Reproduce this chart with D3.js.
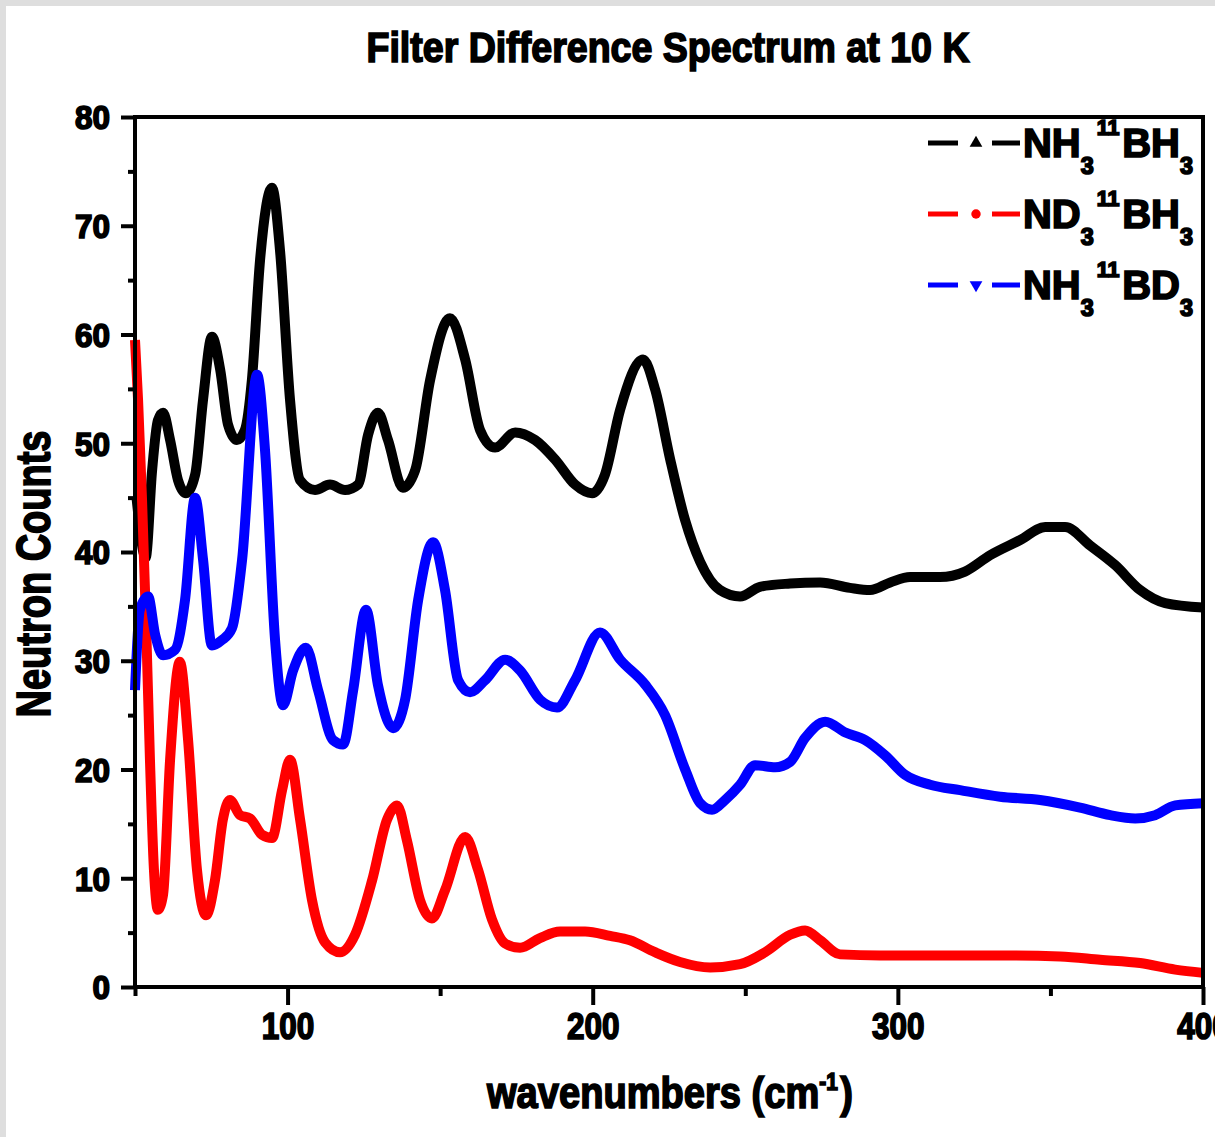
<!DOCTYPE html>
<html>
<head>
<meta charset="utf-8">
<script src="https://cdn.jsdelivr.net/npm/d3@7"></script>
<style>
  body { margin: 0; background: #fff; }
  svg { display: block; }
  text { font-family: "Liberation Sans", Arial, sans-serif; font-weight: bold; fill: #000; }
</style>
</head>
<body>
<svg id="chart" width="1215" height="1137"></svg>
<script>
// NH3-11BH3 spectrum (wavenumber cm^-1, neutron counts)
const nhbhX = [50.5, 53.5, 55.6, 57.5, 59.2, 61.5, 64.1, 66.7, 69.7, 72.3, 75.2, 77.9, 80.5, 83.4, 86, 88.3, 91, 94.9, 97.5, 100.8, 104.1, 109, 113.9, 118.8, 123.1, 126.4, 129.6, 132.9, 137.8, 141.8, 146.7, 153.2, 158.2, 163.1, 168, 174.6, 181.1, 187.7, 194.2, 199.8, 204, 209, 216.5, 220.5, 225.4, 230.3, 235.2, 241.7, 248.3, 254.8, 264.7, 274.5, 284.3, 290.9, 297.5, 304, 313.8, 322, 330.2, 340.1, 348.3, 354.8, 363, 371.2, 379.4, 387.6, 400];
const nhbhY = [45, 39.5, 47.5, 52.1, 52.8, 50.3, 46.6, 45.4, 47.1, 54, 59.8, 56.8, 51.7, 50.3, 51.2, 55.8, 66.9, 73.5, 67.8, 54, 46.6, 45.7, 46.2, 45.7, 46.2, 50.8, 52.8, 50.3, 45.9, 47.5, 55.8, 61.5, 57.7, 51.2, 49.6, 51, 50.3, 48.5, 46.2, 45.4, 47.1, 53.1, 57.7, 54.9, 48.5, 42.9, 39.1, 36.5, 35.9, 36.8, 37.1, 37.2, 36.7, 36.5, 37.2, 37.7, 37.7, 38.2, 39.7, 41.1, 42.3, 42.3, 40.6, 38.8, 36.5, 35.3, 34.9];

// ND3-11BH3 spectrum
const ndbhX = [50, 51, 52.3, 53.6, 54.9, 56.2, 57.5, 59.2, 61.5, 64.7, 67.4, 70.3, 73.3, 76.2, 78.8, 81.1, 84.4, 87.7, 91.6, 94.9, 98.2, 100.8, 104.1, 108, 112.3, 117.2, 122.1, 127.7, 132.6, 135.9, 139.1, 143.4, 147.3, 151.6, 158.2, 162.4, 167, 171.3, 176.2, 182.7, 189.3, 197.5, 205.7, 212.2, 220.4, 228.6, 238.5, 248.3, 256.5, 264.7, 269.6, 274.5, 281.1, 294.2, 313.8, 333.5, 353.2, 366.3, 379.4, 390.9, 400];
const ndbhY = [59.5, 54, 44.8, 33.7, 20.9, 10.8, 7.1, 8.5, 20.9, 29.9, 22.7, 10.8, 6.6, 9.8, 15.4, 17.2, 15.8, 15.5, 14, 13.7, 18.1, 20.9, 15.4, 8, 4.1, 3.2, 4.8, 9.8, 15.4, 16.7, 13.5, 8, 6.3, 8.9, 13.8, 10.8, 6.2, 4, 3.6, 4.5, 5.1, 5.1, 4.7, 4.3, 3.2, 2.3, 1.8, 2.1, 3.2, 4.8, 5.2, 4.3, 3, 2.9, 2.9, 2.9, 2.8, 2.5, 2.2, 1.6, 1.3];

// NH3-11BD3 spectrum
const nhbdX = [50, 51.6, 54.3, 56.6, 59.2, 63.1, 66.4, 69.7, 72.3, 75.2, 78.5, 81.8, 85.1, 90, 92.6, 95.9, 98.5, 101.8, 106, 110, 114.9, 118.2, 121.5, 125.7, 129.6, 134.6, 138.5, 142.8, 147.7, 151.6, 155.9, 159.8, 164.7, 171.3, 176.2, 182.8, 188.3, 194.2, 202.4, 209, 217.2, 223.7, 230.3, 235.2, 239.1, 243.4, 248.3, 253.2, 259.8, 264.7, 269.6, 276.2, 282.8, 289.3, 295.8, 302.4, 310.6, 320.4, 333.5, 346.6, 359.7, 369.6, 377.8, 384.3, 390.9, 400];
const nhbdY = [27.3, 34.7, 35.9, 32.4, 30.5, 31, 35.6, 45, 39.3, 31.4, 31.9, 33, 39.3, 56.3, 49.4, 31.9, 25.9, 29.1, 31.2, 27.3, 22.7, 22.3, 27.3, 34.7, 27.8, 23.8, 26.4, 35.6, 40.9, 36.5, 28.2, 27.1, 28.2, 30.1, 29.1, 26.4, 25.7, 28.2, 32.6, 30.1, 27.8, 25, 20, 16.9, 16.3, 17.2, 18.6, 20.4, 20.2, 20.7, 22.9, 24.4, 23.4, 22.7, 21.3, 19.5, 18.6, 18.1, 17.5, 17.2, 16.5, 15.8, 15.5, 15.8, 16.7, 16.9];

const xMajorTicks = [100, 200, 300, 400];
const xMinorTicks = [50, 150, 250, 350];
const yMajorTicks = [0, 10, 20, 30, 40, 50, 60, 70, 80];
const yMinorTicks = [5, 15, 25, 35, 45, 55, 65, 75];

const series = [
  { name: "NH3BH3", xs: nhbhX, ys: nhbhY, color: "#000000", symbol: d3.symbolTriangle, label: ["NH", "3", "11", "BH", "3"] },
  { name: "ND3BH3", xs: ndbhX, ys: ndbhY, color: "#ff0000", symbol: d3.symbolCircle, label: ["ND", "3", "11", "BH", "3"] },
  { name: "NH3BD3", xs: nhbdX, ys: nhbdY, color: "#0000ff", symbol: d3.symbolTriangle, flip: true, label: ["NH", "3", "11", "BD", "3"] }
];

const svg = d3.select("#chart");
const W = 1215, H = 1137;
const plot = { left: 135, right: 1203, top: 117, bottom: 987 };
const heavy = 1.7;

svg.append("rect").attr("width", W).attr("height", H).attr("fill", "#fff");
// light frame strips along the left and top edges
svg.append("rect").attr("x", 0).attr("y", 0).attr("width", W).attr("height", 6).attr("fill", "#dedede");
svg.append("rect").attr("x", 0).attr("y", 0).attr("width", 6).attr("height", H).attr("fill", "#dedede");

const x = d3.scaleLinear().domain([50, 400]).range([plot.left, plot.right]);
const y = d3.scaleLinear().domain([0, 80]).range([plot.bottom, plot.top]);

// spectra
const line = d3.line().x(d => x(d[0])).y(d => y(d[1])).curve(d3.curveMonotoneX);
const traces = svg.append("g");
series.forEach(s => {
  const pts = s.xs.map((v, i) => [v, s.ys[i]]);
  traces.append("path")
    .attr("d", line(pts))
    .attr("fill", "none")
    .attr("stroke", s.color)
    .attr("stroke-width", 10)
    .attr("stroke-linejoin", "round")
    .attr("stroke-linecap", "butt");
});

// frame
svg.append("rect")
  .attr("x", plot.left).attr("y", plot.top)
  .attr("width", plot.right - plot.left).attr("height", plot.bottom - plot.top)
  .attr("fill", "none").attr("stroke", "#000").attr("stroke-width", 4);

function styleAxis(g) {
  g.select(".domain").remove();
  g.selectAll(".tick line").attr("stroke", "#000").attr("stroke-width", 4);
}

// y axis
const yMinor = svg.append("g").attr("transform", `translate(${plot.left},0)`)
  .call(d3.axisLeft(y).tickValues(yMinorTicks).tickSize(7).tickFormat(""));
styleAxis(yMinor);
const yMajor = svg.append("g").attr("transform", `translate(${plot.left},0)`)
  .call(d3.axisLeft(y).tickValues(yMajorTicks).tickSize(14).tickPadding(11).tickFormat(d3.format("d")));
styleAxis(yMajor);
yMajor.selectAll(".tick text")
  .attr("font-size", 33).attr("dy", "0.36em")
  .attr("stroke", "#000").attr("stroke-width", heavy)
  .attr("textLength", d => String(d).length * 17.5).attr("lengthAdjust", "spacingAndGlyphs");

// x axis
const xMinor = svg.append("g").attr("transform", `translate(0,${plot.bottom})`)
  .call(d3.axisBottom(x).tickValues(xMinorTicks).tickSize(9).tickFormat(""));
styleAxis(xMinor);
const xMajor = svg.append("g").attr("transform", `translate(0,${plot.bottom})`)
  .call(d3.axisBottom(x).tickValues(xMajorTicks).tickSize(18).tickPadding(8).tickFormat(d3.format("d")));
styleAxis(xMajor);
xMajor.selectAll(".tick text")
  .attr("font-size", 36).attr("dy", "0.71em")
  .attr("stroke", "#000").attr("stroke-width", heavy)
  .attr("textLength", d => String(d).length * 17.5).attr("lengthAdjust", "spacingAndGlyphs");

// title
svg.append("text")
  .attr("x", 668).attr("y", 62)
  .attr("text-anchor", "middle")
  .attr("font-size", 42)
  .attr("stroke", "#000").attr("stroke-width", heavy)
  .attr("textLength", 603).attr("lengthAdjust", "spacingAndGlyphs")
  .text("Filter Difference Spectrum at 10 K");

// y title
svg.append("text")
  .attr("transform", "translate(50,574) rotate(-90)")
  .attr("text-anchor", "middle")
  .attr("font-size", 49)
  .attr("stroke", "#000").attr("stroke-width", heavy)
  .attr("textLength", 287).attr("lengthAdjust", "spacingAndGlyphs")
  .text("Neutron Counts");

// x title
const xt = svg.append("text")
  .attr("x", 487).attr("y", 1108)
  .attr("font-size", 44)
  .attr("stroke", "#000").attr("stroke-width", heavy)
  .attr("textLength", 366).attr("lengthAdjust", "spacingAndGlyphs");
xt.append("tspan").text("wavenumbers (cm");
xt.append("tspan").attr("font-size", 24).attr("dy", -18).text("-1");
xt.append("tspan").attr("dx", 3).attr("dy", 18).text(")");

// legend
const legendRows = [143, 214, 285];
series.forEach((s, i) => {
  const ly = legendRows[i];
  const g = svg.append("g");
  g.append("line").attr("x1", 928).attr("x2", 958).attr("y1", ly).attr("y2", ly)
    .attr("stroke", s.color).attr("stroke-width", 5);
  g.append("line").attr("x1", 992).attr("x2", 1020).attr("y1", ly).attr("y2", ly)
    .attr("stroke", s.color).attr("stroke-width", 5);
  g.append("path")
    .attr("d", d3.symbol().type(s.symbol).size(70)())
    .attr("transform", `translate(976,${ly})` + (s.flip ? " rotate(180)" : ""))
    .attr("fill", s.color);
  const t = g.append("text")
    .attr("x", 1023).attr("y", ly + 14)
    .attr("font-size", 41)
    .attr("stroke", "#000").attr("stroke-width", heavy)
    .attr("textLength", 170).attr("lengthAdjust", "spacingAndGlyphs");
  t.append("tspan").text(s.label[0]);
  t.append("tspan").attr("font-size", 24).attr("dy", 17).text(s.label[1]);
  t.append("tspan").attr("font-size", 22).attr("dx", 3).attr("dy", -39).text(s.label[2]);
  t.append("tspan").attr("dx", 3).attr("dy", 22).text(s.label[3]);
  t.append("tspan").attr("font-size", 24).attr("dy", 17).text(s.label[4]);
});
</script>
</body>
</html>
